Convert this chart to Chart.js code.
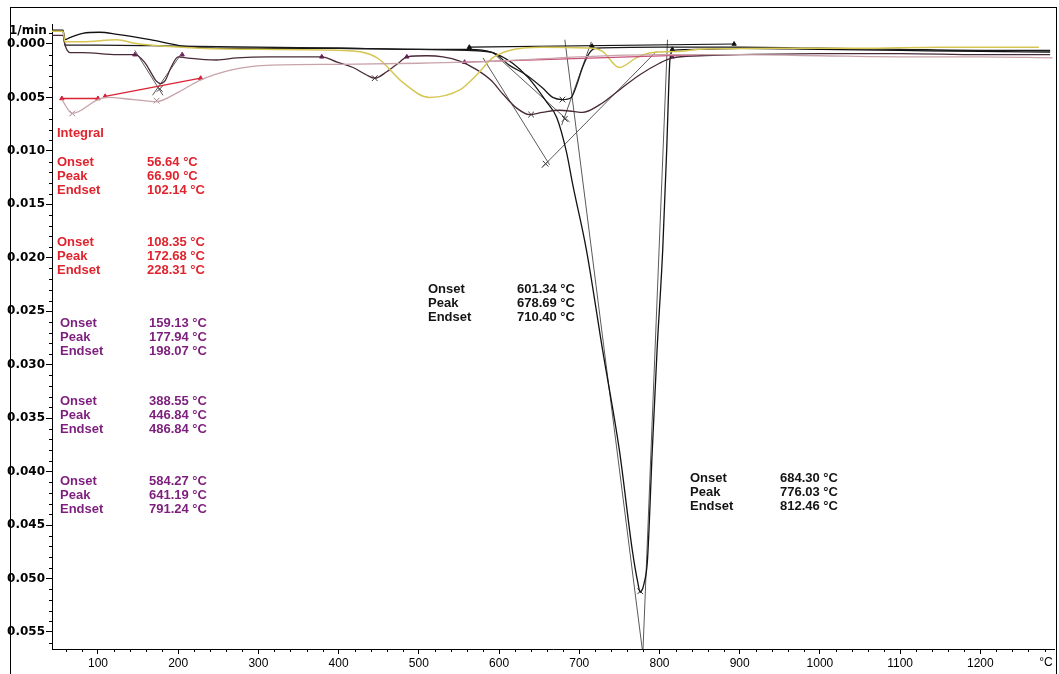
<!DOCTYPE html>
<html>
<head>
<meta charset="utf-8">
<script src="https://cdn.jsdelivr.net/npm/chart.js@4.4.1/dist/chart.umd.min.js"></script>
<style>
  html, body { margin: 0; padding: 0; background: #fff; }
  #wrap { width: 1059px; height: 674px; }
</style>
</head>
<body>
<div id="wrap"><canvas id="dtg" width="1059" height="674"></canvas></div>
<script>
// axis ticks
const xTicks = [100, 200, 300, 400, 500, 600, 700, 800, 900, 1000, 1100, 1200];
const yTicks = [0, 0.005, 0.01, 0.015, 0.02, 0.025, 0.03, 0.035, 0.04, 0.045, 0.05, 0.055];

// curve 1 (black, big step at 776 °C)
const upperT = [42.7, 56.4, 58.9, 65, 81, 102, 124, 165, 206, 248, 314, 400, 500, 563, 592, 617, 637, 659, 672, 684, 692, 709, 729, 750, 766, 773, 776, 781, 785, 791, 797, 804, 809, 811, 813, 817, 850, 900, 1000, 1100, 1200, 1287];
const upperV = [-0.0013, -0.0013, -0.0004, -0.0006, -0.0010, -0.0011, -0.0009, -0.0004, 0.0002, 0.0004, 0.0004, 0.0004, 0.0005, 0.0005, 0.0008, 0.0018, 0.0032, 0.0054, 0.0069, 0.0101, 0.0132, 0.0193, 0.0286, 0.0380, 0.0473, 0.0504, 0.0513, 0.0504, 0.0483, 0.0380, 0.0286, 0.0193, 0.0099, 0.0052, 0.0015, 0.0006, 0.0005, 0.0004, 0.0005, 0.0006, 0.0007, 0.00075];

// curve 2 (black, step at 679 °C)
const midT = [42.7, 56.4, 58.9, 100, 200, 300, 400, 500, 560, 592, 613, 634, 654, 667, 679, 690, 697, 704, 713, 721, 800, 900, 1000, 1100, 1200, 1287];
const midV = [-0.0012, -0.0012, 0.0001, 0.0001, 0.0002, 0.0003, 0.0004, 0.0005, 0.0006, 0.0008, 0.0020, 0.0029, 0.0041, 0.0050, 0.0052, 0.0050, 0.0038, 0.0022, 0.0008, 0.0004, 0.0003, 0.0003, 0.0004, 0.0005, 0.0006, 0.0006];

// curve 3 (dark purple)
const maroonT = [42.7, 56.4, 58.9, 65, 81, 124, 146, 158, 167, 172, 178, 184, 191, 200, 210, 248, 273, 314, 379, 398, 418, 435, 445, 460, 476, 485, 510, 530, 551, 572, 590, 605, 622, 638, 654, 675, 692, 704, 725, 750, 775, 800, 816, 850, 900, 1000, 1100, 1200, 1287];
const maroonV = [-0.0008, -0.0008, 0.0001, 0.0008, 0.0008, 0.0010, 0.0010, 0.0017, 0.0028, 0.0034, 0.0037, 0.0034, 0.0022, 0.0012, 0.0013, 0.0015, 0.0013, 0.0012, 0.0012, 0.0017, 0.0022, 0.0029, 0.0032, 0.0026, 0.0017, 0.0012, 0.0011, 0.0012, 0.0016, 0.0024, 0.0034, 0.0047, 0.0060, 0.0066, 0.0064, 0.0062, 0.0063, 0.0064, 0.0057, 0.0043, 0.0029, 0.0018, 0.0013, 0.0011, 0.0010, 0.0009, 0.0009, 0.0010, 0.0010];

// curve 4 (yellow)
const yellowT = [42.7, 56.4, 58.9, 81, 124, 144, 165, 227, 300, 405, 448, 480, 513, 551, 572, 592, 613, 654, 717, 729, 750, 771, 791, 821, 850, 950, 1050, 1150, 1273];
const yellowV = [-0.0012, -0.0012, -0.0002, -0.0002, -0.0004, -0.0001, 0.0001, 0.0004, 0.0005, 0.0006, 0.0013, 0.0036, 0.0050, 0.0043, 0.0029, 0.0013, 0.0006, 0.0003, 0.0004, 0.0007, 0.0022, 0.0013, 0.0008, 0.0007, 0.0005, 0.0004, 0.0004, 0.0003, 0.0003];

// curve 5 (pink)
const pinkT = [55, 68, 100, 111, 144, 173, 198, 227, 268, 310, 400, 500, 600, 700, 800, 900, 1000, 1100, 1200, 1290];
const pinkV = [0.0052, 0.0065, 0.0052, 0.0050, 0.0052, 0.0054, 0.0046, 0.0034, 0.0024, 0.0020, 0.0019, 0.0018, 0.0016, 0.0012, 0.0010, 0.0010, 0.0011, 0.0012, 0.0012, 0.0013];

// integral baselines
const redBase1T = [55, 100];
const redBase1V = [0.0051, 0.0051];
const redBase2T = [109, 228];
const redBase2V = [0.0049, 0.0032];
const magentaBaseT = [557, 850];
const magentaBaseV = [0.0017, 0.0010];
const blackBaseT = [563, 893];
const blackBaseV = [0.0003, 0.0000];

// tangents
const tangentsT = [[592, 688], [678, 715], [580, 663], [653, 796], [682, 780], [810, 779], [146, 181], [168, 205]];
const tangentsV = [[0.0008, 0.0073], [0.0076, -0.0002], [0.0013, 0.0113], [0.0116, 0.0007], [-0.0004, 0.0575], [-0.0004, 0.0575], [0.0006, 0.0048], [0.0048, 0.0008]];

// peak crosses and limit marks
const pinkCrossT = [68, 173];
const pinkCrossV = [0.0065, 0.0053];
const darkCrossT = [177, 445, 640, 658, 679, 682, 776];
const darkCrossV = [0.0042, 0.0032, 0.0066, 0.0112, 0.0052, 0.0070, 0.0512];
const redMarkT = [55, 100, 109, 228];
const redMarkV = [0.0051, 0.0051, 0.0049, 0.0032];
const purpleMarkT = [146, 205, 379, 485, 557, 816];
const purpleMarkV = [0.0010, 0.0010, 0.0012, 0.0012, 0.0017, 0.0012];
const blackMarkT = [563, 716, 816, 893];
const blackMarkV = [0.0003, 0.0002, 0.0005, 0.0000];

// evaluation tables
const tableLabels = ["Onset", "Peak", "Endset"];
const pinkPeak1 = ["56.64", "66.90", "102.14"];
const pinkPeak2 = ["108.35", "172.68", "228.31"];
const purplePeak1 = ["159.13", "177.94", "198.07"];
const purplePeak2 = ["388.55", "446.84", "486.84"];
const purplePeak3 = ["584.27", "641.19", "791.24"];
const blackPeak1 = ["601.34", "678.69", "710.40"];
const blackPeak2 = ["684.30", "776.03", "812.46"];

function pts(ts, vs) {
  return ts.map((t, i) => ({ x: t, y: vs[i] }));
}

function curve(ts, vs, color, width) {
  return {
    data: pts(ts, vs),
    showLine: true,
    borderColor: color,
    borderWidth: width,
    pointRadius: 0,
    cubicInterpolationMode: "monotone",
  };
}

function straight(ts, vs, color, width) {
  return {
    data: pts(ts, vs),
    showLine: true,
    borderColor: color,
    borderWidth: width,
    pointRadius: 0,
  };
}

function marks(ts, vs, color, style, r) {
  return {
    data: pts(ts, vs),
    showLine: false,
    pointStyle: style,
    pointRadius: r,
    borderColor: color,
    backgroundColor: color,
    borderWidth: 1,
  };
}

const datasets = [
  curve(pinkT, pinkV, "#c9a3aa", 1.3),
  straight(redBase1T, redBase1V, "#dd2233", 1.3),
  straight(redBase2T, redBase2V, "#dd2233", 1.3),
  straight(magentaBaseT, magentaBaseV, "#c8507a", 1.2),
  curve(yellowT, yellowV, "#d6c654", 1.5),
  curve(maroonT, maroonV, "#4a2a38", 1.3),
  straight(blackBaseT, blackBaseV, "#111", 1.2),
  curve(midT, midV, "#1a1a1a", 1.3),
  curve(upperT, upperV, "#111", 1.3),
];
tangentsT.forEach((t, i) => datasets.push(straight(t, tangentsV[i], "#5a5a5a", 1)));
datasets.push(marks(pinkCrossT, pinkCrossV, "#a08088", "crossRot", 4));
datasets.push(marks(darkCrossT, darkCrossV, "#333", "crossRot", 4));
datasets.push(marks(redMarkT, redMarkV, "#d0203a", "triangle", 2.5));
datasets.push(marks(purpleMarkT, purpleMarkV, "#7a1f6a", "triangle", 2.5));
datasets.push(marks(blackMarkT, blackMarkV, "#111", "triangle", 2.5));

const decor = {
  id: "decor",
  afterDraw(chart) {
    const ctx = chart.ctx;
    const xs = chart.scales.x;
    const ys = chart.scales.y;
    const area = chart.chartArea;
    ctx.save();
    // minor ticks
    ctx.strokeStyle = "#000";
    ctx.lineWidth = 1;
    ctx.beginPath();
    for (let k = -1; k <= 56; k++) {
      if (k % 5 === 0) continue;
      const py = Math.round(ys.getPixelForValue(k / 1000)) + 0.5;
      ctx.moveTo(area.left - 3, py);
      ctx.lineTo(area.left, py);
    }
    for (let t = 60; t <= 1280; t += 20) {
      if (t % 100 === 0) continue;
      const px = Math.round(xs.getPixelForValue(t)) + 0.5;
      ctx.moveTo(px, area.bottom);
      ctx.lineTo(px, area.bottom + 3);
    }
    ctx.stroke();

    // unit labels
    ctx.fillStyle = "#000";
    ctx.font = "bold 12px 'DejaVu Sans'";
    ctx.textBaseline = "middle";
    ctx.textAlign = "left";
    ctx.fillText("1/min", 9, 31);
    ctx.font = "12px 'Liberation Sans Narrow', 'Liberation Sans'";
    ctx.textAlign = "center";
    ctx.fillText("°C", 1046, 663);

    // evaluation tables
    ctx.textAlign = "left";
    ctx.font = "bold 13px 'Liberation Sans', Arial";
    function table(vals, color, lx, vx, y0) {
      ctx.fillStyle = color;
      vals.forEach((v, i) => {
        ctx.fillText(tableLabels[i], lx, y0 + i * 14.3);
        ctx.fillText(v + " °C", vx, y0 + i * 14.3);
      });
    }
    ctx.fillStyle = "#e0242e";
    ctx.fillText("Integral", 57, 133);
    table(pinkPeak1, "#e0242e", 57, 147, 162);
    table(pinkPeak2, "#e0242e", 57, 147, 242);
    table(purplePeak1, "#7c1e7c", 60, 149, 323);
    table(purplePeak2, "#7c1e7c", 60, 149, 401);
    table(purplePeak3, "#7c1e7c", 60, 149, 481);
    table(blackPeak1, "#141414", 428, 517, 289);
    table(blackPeak2, "#141414", 690, 780, 478);

    // outer frame
    ctx.strokeStyle = "#000";
    ctx.strokeRect(10.5, 7.5, 1046, 700);
    ctx.restore();
  },
};

new Chart(document.getElementById("dtg"), {
  type: "scatter",
  data: { datasets: datasets },
  options: {
    responsive: false,
    animation: false,
    devicePixelRatio: 1,
    layout: { padding: { top: 24, right: 4, left: 0, bottom: 0 } },
    plugins: { legend: { display: false }, tooltip: { enabled: false } },
    scales: {
      x: {
        type: "linear",
        min: 42.7,
        max: 1291.8,
        afterBuildTicks: (s) => { s.ticks = xTicks.map((v) => ({ value: v })); },
        afterFit: (s) => { s.height = 25; },
        ticks: {
          autoSkip: false,
          maxRotation: 0,
          padding: 2,
          color: "#000",
          font: { family: "'Liberation Sans Narrow', 'Liberation Sans'", size: 12 },
          callback: (v) => String(v),
        },
        grid: { display: true, drawOnChartArea: false, tickLength: 5, color: "#000" },
        border: { display: true, color: "#000", width: 1 },
      },
      y: {
        type: "linear",
        reverse: true,
        min: -0.00187,
        max: 0.0566,
        afterBuildTicks: (s) => { s.ticks = yTicks.map((v) => ({ value: v })); },
        afterFit: (s) => { s.width = 52; },
        ticks: {
          padding: 1,
          color: "#000",
          font: { family: "'DejaVu Sans'", size: 12, weight: "bold" },
          callback: (v) => Number(v).toFixed(3),
        },
        grid: { display: true, drawOnChartArea: false, tickLength: 6, color: "#000" },
        border: { display: true, color: "#000", width: 1 },
      },
    },
  },
  plugins: [decor],
});
</script>
</body>
</html>
